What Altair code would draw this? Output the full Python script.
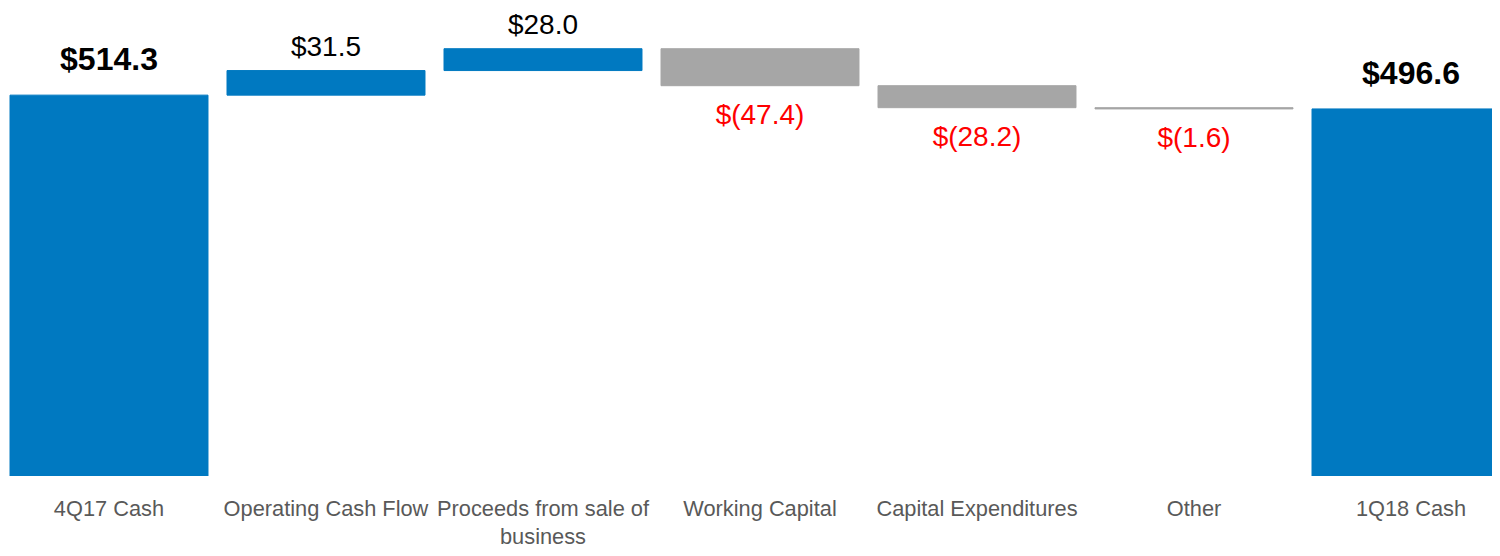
import altair as alt
import pandas as pd

categories = ["4Q17 Cash", "Operating Cash Flow", "Proceeds from sale of business",
              "Working Capital", "Capital Expenditures", "Other", "1Q18 Cash"]
changes = [514.3, 31.5, 28.0, -47.4, -28.2, -1.6, 496.6]
kinds = ["total", "pos", "pos", "neg", "neg", "neg", "total"]
labels = ["$514.3", "$31.5", "$28.0", "$(47.4)", "$(28.2)", "$(1.6)", "$496.6"]

rows = []
running = 0.0
for c, v, k, l in zip(categories, changes, kinds, labels):
    if k == "total":
        start, end = 0.0, v
        running = v
    else:
        start, end = running, running + v
        running = end
    rows.append(dict(cat=c, start=start, end=end, kind=k, label=l,
                     top=max(start, end), bottom=min(start, end)))
df = pd.DataFrame(rows)

FONT = "Liberation Sans, Arial, sans-serif"
BLUE = "#0079C1"
GRAY = "#A6A6A6"

x = alt.X("cat:N", sort=categories,
          scale=alt.Scale(range=[2, 1502], paddingInner=0.0876, paddingOuter=0),
          axis=alt.Axis(title=None, domain=False, ticks=False, tickSize=0, labelAngle=0,
                        labelFontSize=21.8, labelColor="#595959", labelFont=FONT,
                        labelPadding=22, labelLineHeight=28, labelLimit=400,
                        labelExpr="datum.label == 'Proceeds from sale of business' ? ['Proceeds from sale of', 'business'] : datum.label"))
yscale = alt.Scale(domain=[26, 626], zero=False, nice=False)

base = alt.Chart(df)
color_scale = alt.Scale(domain=["total", "pos", "neg"], range=[BLUE, BLUE, GRAY])

bars = base.mark_bar(clip=True, strokeWidth=1).encode(
    x=x,
    y=alt.Y("top:Q", scale=yscale, axis=None),
    y2="bottom:Q",
    color=alt.Color("kind:N", scale=color_scale, legend=None),
    stroke=alt.Stroke("kind:N", scale=color_scale, legend=None),
)

totals = base.transform_filter("datum.kind == 'total'").mark_text(
    font=FONT, fontSize=32, fontWeight="bold", color="black", baseline="alphabetic", dy=-25
).encode(x=alt.X("cat:N", sort=categories), y=alt.Y("top:Q", scale=yscale), text="label:N")

pos = base.transform_filter("datum.kind == 'pos'").mark_text(
    font=FONT, fontSize=28, color="black", baseline="alphabetic", dy=-15
).encode(x=alt.X("cat:N", sort=categories), y=alt.Y("top:Q", scale=yscale), text="label:N")

neg = base.transform_filter("datum.kind == 'neg'").mark_text(
    font=FONT, fontSize=28, color="#FF0000", baseline="top", dy=16
).encode(x=alt.X("cat:N", sort=categories), y=alt.Y("bottom:Q", scale=yscale), text="label:N")

chart = alt.layer(bars, totals, pos, neg).properties(
    width=1484, height=468,
    padding={"left": 0, "top": 0, "right": 0, "bottom": 72},
    autosize=alt.AutoSizeParams(type="none"),
).configure_view(stroke=None)

chart.save("out.html", embed_options={"renderer": "svg", "actions": False})
